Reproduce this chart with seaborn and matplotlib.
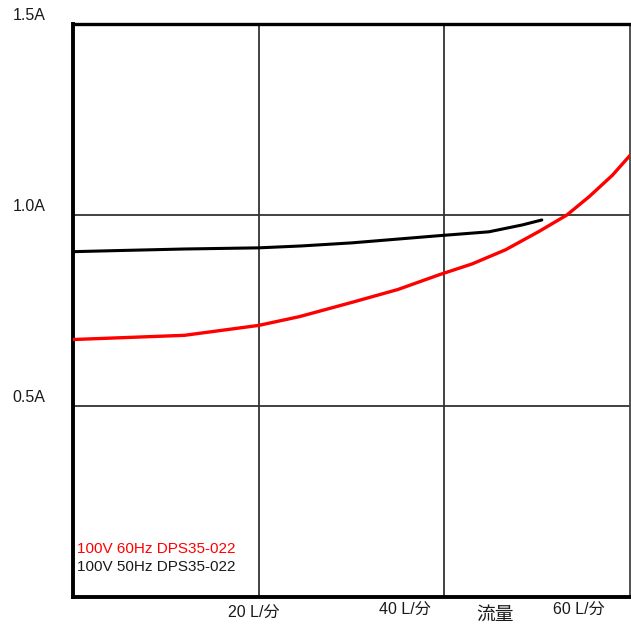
import matplotlib
matplotlib.use("Agg")
import matplotlib.pyplot as plt
import matplotlib.transforms as mtransforms
import seaborn as sns
import pandas as pd

# values (flow L/min -> current A)
flow_50hz = [0, 5, 12, 20, 24.6, 30, 35, 39.5, 44.8, 48.4, 50.5]
amp_50hz = [0.904, 0.907, 0.911, 0.914, 0.919, 0.927, 0.937, 0.946, 0.956, 0.974, 0.987]

flow_60hz = [0, 12, 20, 24.4, 30, 35, 39.5, 43.0, 46.6, 50.2, 53.2, 55.6, 58.1, 60]
amp_60hz = [0.674, 0.685, 0.711, 0.734, 0.771, 0.805, 0.844, 0.872, 0.909, 0.957, 1.0, 1.048, 1.104, 1.156]

y_ticks = [1.5, 1.0, 0.5]
y_labels = ["1.5A", "1.0A", "0.5A"]
x_labels = ["20 L/分", "40 L/分", "60 L/分"]
series_labels = ["100V 60Hz DPS35-022", "100V 50Hz DPS35-022"]

df50 = pd.DataFrame({"flow": flow_50hz, "amp": amp_50hz})
df60 = pd.DataFrame({"flow": flow_60hz, "amp": amp_60hz})

sns.set_style("white")
plt.rcParams['font.family'] = ['Liberation Sans', 'Noto Sans CJK JP', 'DejaVu Sans']

fig = plt.figure(figsize=(6.31, 6.26), dpi=100)
ax = fig.add_axes([73 / 631, 1 - 597 / 626, 557 / 631, 573 / 626])

# grid
for v in [20, 40]:
    ax.axvline(v, color="#333333", lw=1.3, zorder=1)
for v in [0.5, 1.0]:
    ax.axhline(v, color="#333333", lw=1.3, zorder=1)

sns.lineplot(data=df50, x="flow", y="amp", color="black", lw=2.2, ax=ax, zorder=3)
sns.lineplot(data=df60, x="flow", y="amp", color="#ff0000", lw=2.4, ax=ax, zorder=3)

ax.set_xlim(0, 60)
ax.set_ylim(0, 1.5)
ax.set_xticks([])
ax.set_yticks([])
ax.set_xlabel("")
ax.set_ylabel("")
for name, s in ax.spines.items():
    s.set_color("black")
    s.set_linewidth(2.8)
ax.spines["top"].set_linewidth(2.4)
ax.spines["right"].set_linewidth(1.3)
ax.spines["right"].set_color("#444444")

# y labels sit a little above their gridlines
ty = mtransforms.blended_transform_factory(ax.transAxes, ax.transData)
for v, lab in zip(y_ticks, y_labels):
    ax.text(-0.109, v + 0.023, lab, transform=ty, ha="left", va="center",
            fontsize=11.5, color="#1a1a1a", clip_on=False)

# x labels under the frame
tx = mtransforms.blended_transform_factory(ax.transData, ax.transAxes)
x_pos = [19.5, 35.8, 54.5]
x_dy = [-0.029, -0.024, -0.024]
for xp, dy, lab in zip(x_pos, x_dy, x_labels):
    ax.text(xp, dy, lab, transform=tx, ha="center", va="center",
            fontsize=11.5, color="#1a1a1a", clip_on=False)
ax.text(45.5, -0.032, "流量", transform=tx, ha="center", va="center",
        fontsize=13.5, color="#1a1a1a", clip_on=False)

# legend text
ax.text(0.4, 0.084, series_labels[0], transform=tx, ha="left", va="center",
        fontsize=11, color="#ff0000")
ax.text(0.4, 0.052, series_labels[1], transform=tx, ha="left", va="center",
        fontsize=11, color="#1a1a1a")

fig.savefig("out.png", dpi=100, facecolor="white")
